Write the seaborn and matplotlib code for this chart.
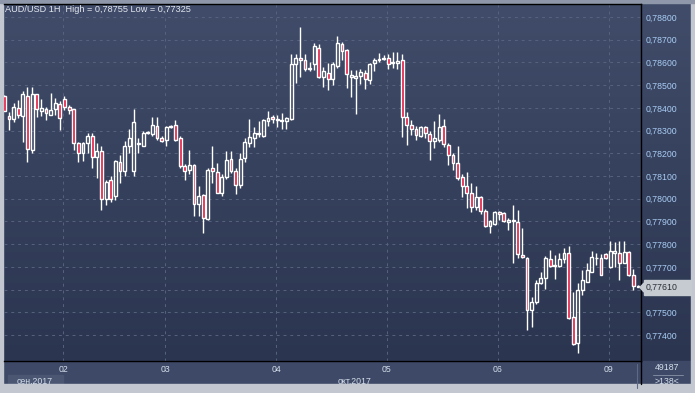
import numpy as np
import pandas as pd
import matplotlib
matplotlib.use("Agg")
import matplotlib.pyplot as plt
from matplotlib.colors import LinearSegmentedColormap
from matplotlib.patches import Rectangle, Polygon
import seaborn as sns

# -------------------------
# AUD/USD hourly candles
# -------------------------
opens = [0.78454, 0.78366, 0.78349, 0.78400, 0.78366, 0.78454, 0.78215, 0.78460, 0.78388, 0.78393,
         0.78369, 0.78396, 0.78419, 0.78440, 0.78404, 0.78393, 0.78246, 0.78199, 0.78246, 0.78275,
         0.78184, 0.78210, 0.78000, 0.78084, 0.78010, 0.78163, 0.78122, 0.78231, 0.78122, 0.78240,
         0.78234, 0.78290, 0.78287, 0.78319, 0.78268, 0.78257, 0.78315, 0.78325, 0.78266, 0.78146,
         0.78125, 0.78149, 0.77976, 0.78015, 0.77910, 0.78135, 0.78116, 0.78024, 0.78097, 0.78173,
         0.78123, 0.78059, 0.78177, 0.78243, 0.78265, 0.78290, 0.78278, 0.78343, 0.78360, 0.78353,
         0.78344, 0.78341, 0.78352, 0.78595, 0.78621, 0.78609, 0.78571, 0.78592, 0.78665, 0.78536,
         0.78555, 0.78527, 0.78583, 0.78682, 0.78656, 0.78536, 0.78533, 0.78542, 0.78555, 0.78524,
         0.78599, 0.78612, 0.78617, 0.78621, 0.78598, 0.78599, 0.78612, 0.78360, 0.78325, 0.78307,
         0.78275, 0.78316, 0.78287, 0.78253, 0.78257, 0.78321, 0.78237, 0.78193, 0.78157, 0.78096,
         0.78057, 0.78025, 0.77963, 0.78007, 0.77944, 0.77878, 0.77888, 0.77940, 0.77937, 0.77896,
         0.77900, 0.77898, 0.77753, 0.77738, 0.77510, 0.77547, 0.77628, 0.77650, 0.77734, 0.77704,
         0.77704, 0.77734, 0.77760, 0.77481, 0.77363, 0.77596, 0.77635, 0.77679, 0.77738, 0.77738,
         0.77756, 0.77701, 0.77763, 0.77760, 0.77719, 0.77766, 0.77663, 0.77616]
highs = [0.78457, 0.78381, 0.78422, 0.78434, 0.78474, 0.78493, 0.78490, 0.78463, 0.78440, 0.78404,
         0.78466, 0.78443, 0.78428, 0.78451, 0.78413, 0.78396, 0.78251, 0.78251, 0.78290, 0.78290,
         0.78246, 0.78231, 0.78084, 0.78099, 0.78172, 0.78194, 0.78253, 0.78307, 0.78396, 0.78268,
         0.78296, 0.78296, 0.78360, 0.78360, 0.78275, 0.78319, 0.78325, 0.78346, 0.78275, 0.78151,
         0.78216, 0.78154, 0.78054, 0.78021, 0.78135, 0.78231, 0.78158, 0.78108, 0.78210, 0.78210,
         0.78133, 0.78199, 0.78265, 0.78350, 0.78316, 0.78343, 0.78353, 0.78387, 0.78368, 0.78368,
         0.78378, 0.78360, 0.78639, 0.78636, 0.78756, 0.78636, 0.78600, 0.78685, 0.78682, 0.78580,
         0.78598, 0.78602, 0.78715, 0.78690, 0.78660, 0.78568, 0.78565, 0.78573, 0.78565, 0.78599,
         0.78619, 0.78641, 0.78631, 0.78638, 0.78646, 0.78646, 0.78636, 0.78381, 0.78346, 0.78319,
         0.78319, 0.78319, 0.78296, 0.78341, 0.78371, 0.78349, 0.78246, 0.78201, 0.78234, 0.78110,
         0.78119, 0.78069, 0.78057, 0.78013, 0.77954, 0.77904, 0.77947, 0.77944, 0.77940, 0.77915,
         0.77972, 0.77948, 0.77871, 0.77743, 0.77569, 0.77643, 0.77679, 0.77746, 0.77775, 0.77750,
         0.77760, 0.77782, 0.77790, 0.77591, 0.77628, 0.77687, 0.77716, 0.77768, 0.77760, 0.77756,
         0.77763, 0.77812, 0.77809, 0.77812, 0.77812, 0.77768, 0.77690, 0.77618]
lows = [0.78385, 0.78301, 0.78337, 0.78354, 0.78251, 0.78163, 0.78201, 0.78360, 0.78363, 0.78346,
        0.78369, 0.78369, 0.78301, 0.78390, 0.78372, 0.78216, 0.78160, 0.78166, 0.78201, 0.78137,
        0.78093, 0.77951, 0.77974, 0.77985, 0.77996, 0.78069, 0.78099, 0.78201, 0.78099, 0.78201,
        0.78231, 0.78284, 0.78275, 0.78260, 0.78249, 0.78231, 0.78310, 0.78254, 0.78135, 0.78084,
        0.78110, 0.77922, 0.77922, 0.77851, 0.77904, 0.78069, 0.78024, 0.78012, 0.78085, 0.78111,
        0.78019, 0.78046, 0.78163, 0.78229, 0.78229, 0.78272, 0.78270, 0.78321, 0.78334, 0.78316,
        0.78306, 0.78306, 0.78346, 0.78510, 0.78536, 0.78562, 0.78562, 0.78568, 0.78532, 0.78492,
        0.78480, 0.78499, 0.78577, 0.78609, 0.78489, 0.78448, 0.78375, 0.78507, 0.78485, 0.78507,
        0.78562, 0.78602, 0.78609, 0.78573, 0.78577, 0.78573, 0.78272, 0.78235, 0.78282, 0.78257,
        0.78271, 0.78268, 0.78172, 0.78224, 0.78249, 0.78228, 0.78149, 0.78125, 0.78084, 0.78007,
        0.77959, 0.77940, 0.77951, 0.77934, 0.77875, 0.77851, 0.77884, 0.77907, 0.77896, 0.77863,
        0.77716, 0.77740, 0.77738, 0.77422, 0.77434, 0.77538, 0.77624, 0.77604, 0.77700, 0.77646,
        0.77700, 0.77716, 0.77471, 0.77356, 0.77319, 0.77578, 0.77632, 0.77675, 0.77710, 0.77663,
        0.77735, 0.77694, 0.77700, 0.77640, 0.77716, 0.77660, 0.77596, 0.77609]
closes = [0.78388, 0.78349, 0.78404, 0.78369, 0.78459, 0.78219, 0.78463, 0.78393, 0.78399, 0.78378,
          0.78391, 0.78422, 0.78356, 0.78404, 0.78390, 0.78246, 0.78199, 0.78246, 0.78275, 0.78184,
          0.78209, 0.78000, 0.78072, 0.78000, 0.78168, 0.78124, 0.78234, 0.78268, 0.78337, 0.78246,
          0.78290, 0.78294, 0.78325, 0.78268, 0.78253, 0.78316, 0.78321, 0.78260, 0.78146, 0.78124,
          0.78149, 0.77976, 0.78010, 0.77915, 0.78128, 0.78121, 0.78027, 0.78094, 0.78170, 0.78123,
          0.78059, 0.78173, 0.78248, 0.78270, 0.78290, 0.78283, 0.78346, 0.78357, 0.78353, 0.78346,
          0.78347, 0.78357, 0.78595, 0.78621, 0.78612, 0.78573, 0.78574, 0.78671, 0.78536, 0.78561,
          0.78527, 0.78592, 0.78685, 0.78650, 0.78548, 0.78543, 0.78540, 0.78559, 0.78526, 0.78595,
          0.78612, 0.78616, 0.78621, 0.78595, 0.78600, 0.78607, 0.78360, 0.78325, 0.78307, 0.78279,
          0.78316, 0.78290, 0.78253, 0.78268, 0.78316, 0.78240, 0.78191, 0.78157, 0.78090, 0.78054,
          0.78025, 0.77963, 0.78007, 0.77944, 0.77878, 0.77900, 0.77943, 0.77931, 0.77901, 0.77907,
          0.77904, 0.77756, 0.77743, 0.77510, 0.77547, 0.77628, 0.77650, 0.77738, 0.77704, 0.77707,
          0.77734, 0.77760, 0.77474, 0.77360, 0.77596, 0.77643, 0.77687, 0.77743, 0.77741, 0.77665,
          0.77738, 0.77768, 0.77768, 0.77719, 0.77766, 0.77665, 0.77616, 0.77612]

day_labels = ["02", "03", "04", "05", "06", "09"]
day_starts = [12.7, 34.8, 58.8, 82.7, 106.7, 130.7]   # hour index where each day begins
price_ticks = [0.774, 0.775, 0.776, 0.777, 0.778, 0.779, 0.780, 0.781,
               0.782, 0.783, 0.784, 0.785, 0.786, 0.787, 0.788]
last_price = 0.77610
chart_high = 0.78755
chart_low = 0.77325

df = pd.DataFrame({"open": opens, "high": highs, "low": lows, "close": closes})
df["t"] = np.arange(len(df))
df["up"] = df["close"] >= df["open"]
df["top"] = df[["open", "close"]].max(axis=1)
df["bot"] = df[["open", "close"]].min(axis=1)

# -------------------------
# Figure setup
# -------------------------
sns.set_theme(style="dark")
plt.rcParams['font.family'] = ['Liberation Sans', 'DejaVu Sans']

W, H = 695, 393
fig = plt.figure(figsize=(W / 100, H / 100), dpi=100)
fig.patch.set_facecolor("#3d4966")

def fx(x):
    return x / W

def fy(y):
    return 1 - y / H

# gradient background behind everything
bg = fig.add_axes([0, 0, 1, 1], zorder=-5)
bg.axis("off")
grad_cmap = LinearSegmentedColormap.from_list("bg", ["#404c69", "#2b3550"])
bg.imshow(np.linspace(0, 1, 256).reshape(-1, 1), cmap=grad_cmap, aspect="auto",
          extent=[0, 1, fy(361), fy(4)], transform=bg.transAxes)
bg.set_xlim(0, 1)
bg.set_ylim(0, 1)
# bottom strip and outer frame
bg.add_patch(Rectangle((0, fy(384)), 1, fy(361) - fy(384), color="#3d4966", transform=bg.transAxes))
bg.add_patch(Rectangle((fx(8), fy(389)), fx(55), fy(375) - fy(389), color="#4a5672", transform=bg.transAxes))
bg.add_patch(Rectangle((0, 0), fx(3), 1, color="#c3c8d0", transform=bg.transAxes))
bg.add_patch(Rectangle((0, 0), 1, fy(384), color="#c3c8d0", transform=bg.transAxes))
bg.add_patch(Rectangle((fx(691), 0), 1 - fx(691), 1, color="#c3c8d0", transform=bg.transAxes))
bg.add_patch(Rectangle((0, fy(3)), 1, 1 - fy(3), color="#8f98aa", transform=bg.transAxes))

ax = fig.add_axes([fx(4), fy(361), fx(641) - fx(4), fy(4) - fy(361)])
ax.set_facecolor("none")

# -------------------------
# Candles
# -------------------------
body_w = 0.62
min_h = 0.00003
heights = (df["top"] - df["bot"]).clip(lower=min_h)
# wicks: above and below the body so hollow bodies stay empty
ax.vlines(df["t"], df["top"], df["high"], color="white", lw=1.0, zorder=3)
ax.vlines(df["t"], df["low"], df["bot"], color="white", lw=1.0, zorder=3)
ax.bar(df["t"], heights, bottom=df["bot"], width=body_w,
       color=np.where(df["up"], "none", "#e0163c"), edgecolor="white", linewidth=1.0, zorder=4)

# -------------------------
# Axes, grid, labels
# -------------------------
ax.set_xlim(-0.07, 137.66)
ax.set_ylim(0.772853, 0.788572)

ax.set_yticks(price_ticks)
ax.set_yticklabels(["" if abs(p - last_price) < 0.0002 else f"{p:.5f}".replace(".", ",")
                    for p in price_ticks])
ax.yaxis.tick_right()
ax.tick_params(axis="y", length=0, pad=3, labelsize=6.3, labelcolor="#a9cdf5")
ax.set_xticks(day_starts)
ax.set_xticklabels(day_labels)
ax.tick_params(axis="x", length=0, pad=3, labelsize=6.3, labelcolor="#d5deeb")
ax.grid(True, color="#56627e", linestyle=(0, (3, 4)), linewidth=0.7)
for side in ["top", "bottom", "right"]:
    ax.spines[side].set_color("black")
    ax.spines[side].set_linewidth(1.0)
ax.spines["left"].set_visible(False)

fig.text(fx(5), fy(10), f"AUD/USD 1H  High = {chart_high:.5f} Low = {chart_low:.5f}".replace(".", ","),
         fontsize=6.6, color="#e3e7ee", va="center", ha="left")

# current price box
fig.patches.append(Rectangle((fx(644), fy(295)), fx(47), fy(280) - fy(295), color="#c6cad1",
                             transform=fig.transFigure, figure=fig))
fig.patches.append(Polygon([(fx(640), fy(287.5)), (fx(644), fy(283)), (fx(644), fy(292))],
                           closed=True, color="#c6cad1", transform=fig.transFigure, figure=fig))
fig.text(fx(646), fy(287.5), f"{last_price:.5f}".replace(".", ","), fontsize=6.3,
         color="#2a2e36", va="center", ha="left")

# bottom labels
fig.text(fx(35), fy(382), "сен.2017", fontsize=6.3, color="#d5deeb", ha="center", va="center")
fig.text(fx(355), fy(381), "окт.2017", fontsize=6.3, color="#d5deeb", ha="center", va="center")
fig.text(fx(667), fy(368), "49187", fontsize=6.3, color="#d5deeb", ha="center", va="center")
fig.text(fx(667), fy(382), ">138<", fontsize=6.3, color="#d5deeb", ha="center", va="center")
fig.lines.append(plt.Line2D([fx(653), fx(683)], [fy(375), fy(375)], color="#7f89a0", lw=0.7,
                            transform=fig.transFigure, figure=fig))
fig.lines.append(plt.Line2D([fx(636.5), fx(636.5)], [fy(364), fy(388)], color="#5e6984", lw=0.8,
                            transform=fig.transFigure, figure=fig))
fig.lines.append(plt.Line2D([fx(641), fx(641)], [fy(361), fy(384)], color="black", lw=1.0,
                            transform=fig.transFigure, figure=fig))

fig.savefig("out.png", dpi=100, facecolor=fig.get_facecolor())
